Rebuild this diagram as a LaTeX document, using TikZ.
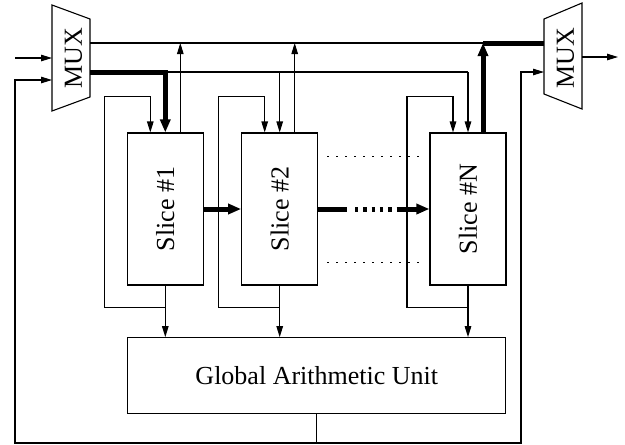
\documentclass[tikz,border=0pt]{standalone}
\usepackage{fontspec}
\setmainfont{Liberation Serif}
\usetikzlibrary{arrows.meta}
\begin{document}
\begin{tikzpicture}[x=1pt,y=-1pt,line width=1.1pt,
  ar/.style={-{Triangle[length=11pt,width=6.5pt]}},
  thk/.style={line width=5pt},
  thkar/.style={line width=5pt,-{Triangle[length=13pt,width=10pt]}},
  dotl/.style={line width=1pt,dash pattern=on 2pt off 7pt},
  thkdot/.style={line width=5pt,dash pattern=on 3.3pt off 5pt},
  bigfont/.style={font=\fontsize{26}{30}\selectfont},
  slicebox/.style={draw,minimum width=76pt,minimum height=152pt,inner sep=0pt,bigfont},
  gaubox/.style={draw,minimum width=378pt,minimum height=75.6pt,inner sep=0pt,bigfont},
  muxtext/.style={inner sep=0pt,bigfont,rotate=90}]
\useasboundingbox (0,0) rectangle (625,445);

% MUXes
\draw (52,5) -- (90,19) -- (90,97) -- (52,111) -- cycle;
\node[muxtext] (muxL) at (73.5,58) {MUX};
\draw (544,19) -- (582,3) -- (582,109) -- (544,94) -- cycle;
\node[muxtext] (muxR) at (565.5,58) {MUX};
\coordinate (mLi1) at (52,58);
\coordinate (mLi2) at (52,80);
\coordinate (mLo1) at (90,43);
\coordinate (mLo2) at (90,72);
\coordinate (mRi1) at (544,43);
\coordinate (mRi2) at (544,72);
\coordinate (mRo) at (582,57);
\coordinate (inL) at (15,58);
\coordinate (outR) at (618,57);

% slices
\node[slicebox] (s1) at (165.3,209) {\rotatebox{90}{Slice \#1}};
\node[slicebox] (s2) at (279.7,209) {\rotatebox{90}{Slice \#2}};
\node[slicebox] (sN) at (468,209) {\rotatebox{90}{Slice \#N}};
\node[gaubox] (gau) at (316.8,375.5) {Global Arithmetic Unit};

% input / output
\draw[ar] (inL) -- (mLi1);
\draw[ar] (mRo) -- (outR);

% bus y=43
\draw (mLo1) -- ([xshift=15pt]sN.north |- mLo1);
\draw[thk] ([xshift=15pt]sN.north |- mRi1) -- (mRi1);
% bus y=72
\draw (s1.north |- mLo2) -- (sN.north |- mLo2);
\draw[thkar] (mLo2) -| (s1.north);
\draw[ar] (s2.north |- mLo2) -- (s2.north);
\draw[ar] (sN.north |- mLo2) -- (sN.north);
% up arrows
\draw[ar] ([xshift=15pt]s1.north) -- ([xshift=15pt]s1.north |- mLo1);
\draw[ar] ([xshift=15pt]s2.north) -- ([xshift=15pt]s2.north |- mLo1);
\draw[thkar] ([xshift=15pt]sN.north) -- ([xshift=15pt]sN.north |- mRi1);

% feedback loops and outputs
\foreach \s in {s1,s2,sN}{
  \draw[ar] (\s.south) -- ++(0,22) -- ++(-61,0) -- ++(0,-211) -- ++(46,0) -- ([xshift=-15pt]\s.north);
  \draw[ar] (\s.south) -- (\s.south |- gau.north);
}

% slice chain
\draw[thkar] (s1.east) -- (s2.west);
\coordinate (d1) at (347,209);
\coordinate (d2) at (355,209);
\coordinate (d3) at (398,209);
\draw[thk] (s2.east) -- (d1);
\draw[thkdot] (d2) -- (d3);
\draw[thkar] (d3) -- (sN.west);
\coordinate (t1) at (327,156);
\coordinate (t2) at (422,156);
\coordinate (b1) at (327,262);
\coordinate (b2) at (422,262);
\draw[dotl] (t1) -- (t2);
\draw[dotl] (b1) -- (b2);

% bottom feedback
\coordinate (bot) at (316.8,443);
\draw[ar] (gau.south) -- (bot) -| (inL |- mLi2) -- (mLi2);
\draw[ar] (bot) -| ([xshift=-23pt]mRi2) -- (mRi2);
\end{tikzpicture}
\end{document}
